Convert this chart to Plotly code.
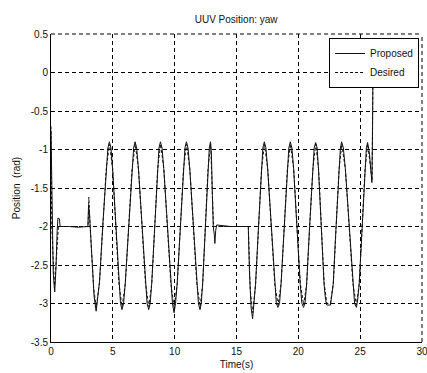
import plotly.graph_objects as go

# Proposed trajectory
prop_t = [0.00, 0.08, 0.18, 0.30, 0.40, 0.50, 0.56, 0.68, 0.74, 1.50, 2.20, 2.98, 3.04, 3.12, 3.30, 3.48, 3.65,
          3.80, 3.92, 4.18, 4.45, 4.60, 4.72,
          4.85, 4.98, 5.23, 5.48, 5.62, 5.74,
          5.87, 6.00, 6.27, 6.54, 6.68, 6.80,
          6.93, 7.07, 7.35, 7.63, 7.77, 7.90,
          8.02, 8.14, 8.38, 8.61, 8.73, 8.85,
          8.98, 9.12, 9.40, 9.68, 9.82, 9.95,
          10.07, 10.20, 10.45, 10.70, 10.83, 10.95,
          11.08, 11.22, 11.50, 11.78, 11.92, 12.05,
          12.15, 12.26, 12.47, 12.68, 12.80, 12.90,
          12.97, 13.05, 13.12, 13.20, 13.25, 13.32, 13.40, 14.50, 15.95,
          16.05, 16.18, 16.30,
          16.42, 16.54, 16.78, 17.01, 17.13, 17.25,
          17.38, 17.52, 17.80, 18.08, 18.22, 18.35,
          18.48, 18.60, 18.85, 19.10, 19.23, 19.35,
          19.48, 19.62, 19.88, 20.15, 20.29, 20.42,
          20.54, 20.67, 20.91, 21.16, 21.28, 21.40,
          21.52, 21.63, 21.85, 22.08, 22.20, 22.30, 22.60,
          22.70, 22.82, 23.05, 23.28, 23.40, 23.50,
          23.64, 23.80, 24.10, 24.40, 24.55, 24.70,
          24.80, 24.92, 25.15, 25.38, 25.50, 25.60,
          25.75, 25.88, 25.95, 26.00, 26.05]
prop_y = [-0.75, -1.90, -2.60, -2.85, -2.55, -2.05, -1.89, -1.90, -2.00, -2.00, -2.01, -2.00, -1.72, -1.85, -2.45, -2.90, -3.10,
          -2.85, -2.72, -2.00, -1.25, -0.98, -0.90,
          -0.98, -1.25, -2.00, -2.75, -3.00, -3.08,
          -3.00, -2.75, -2.00, -1.25, -0.98, -0.90,
          -0.98, -1.25, -2.00, -2.75, -3.00, -3.08,
          -3.00, -2.75, -2.00, -1.25, -0.98, -0.90,
          -0.98, -1.25, -2.00, -2.75, -3.00, -3.12,
          -3.00, -2.75, -2.00, -1.25, -0.98, -0.90,
          -0.98, -1.25, -2.00, -2.75, -3.00, -3.08,
          -3.00, -2.75, -2.00, -1.25, -0.98, -0.90,
          -1.05, -1.60, -2.00, -2.10, -2.22, -2.05, -1.98, -2.00, -2.00,
          -2.60, -3.05, -3.20,
          -3.00, -2.75, -2.00, -1.25, -0.98, -0.90,
          -0.98, -1.25, -2.00, -2.75, -3.00, -3.05,
          -3.00, -2.75, -2.00, -1.25, -0.98, -0.90,
          -0.98, -1.25, -2.00, -2.75, -3.00, -3.05,
          -3.00, -2.75, -2.00, -1.25, -0.98, -0.91,
          -0.98, -1.25, -2.00, -2.75, -2.95, -3.02, -3.02,
          -2.90, -2.75, -2.00, -1.25, -0.98, -0.90,
          -0.98, -1.25, -2.00, -2.75, -3.00, -3.05,
          -2.95, -2.75, -2.00, -1.25, -0.98, -0.91,
          -1.05, -1.30, -1.43, -0.80, 0.35]

# Desired trajectory
des_t = [0.00, 0.06, 0.28, 0.60, 3.00, 3.06, 3.16, 3.45, 3.66,
         3.93, 4.19, 4.46, 4.73, 4.99, 5.24, 5.49, 5.75, 6.01, 6.28, 6.55, 6.81,
         7.08, 7.36, 7.64, 7.91, 8.15, 8.39, 8.62, 8.86, 9.13, 9.41, 9.69, 9.96,
         10.21, 10.46, 10.71, 10.96, 11.23, 11.51, 11.79, 12.06, 12.27, 12.48, 12.69, 12.91,
         13.06, 13.14, 15.96, 16.10, 16.31,
         16.55, 16.79, 17.02, 17.26, 17.53, 17.81, 18.09, 18.36, 18.61, 18.86, 19.11, 19.36,
         19.63, 19.89, 20.16, 20.43, 20.68, 20.92, 21.17, 21.41, 21.64, 21.86, 22.09, 22.31,
         22.59, 22.83, 23.06, 23.29, 23.51, 23.81, 24.11, 24.41, 24.69, 24.93, 25.16, 25.39,
         25.61, 25.96, 26.05]
des_y = [-0.70, -2.00, -2.80, -2.00, -2.00, -1.62, -2.00, -2.80, -3.05,
         -2.72, -2.00, -1.26, -0.93, -1.26, -2.00, -2.74, -3.04, -2.74, -2.00, -1.26, -0.93,
         -1.26, -2.00, -2.74, -3.04, -2.74, -2.00, -1.26, -0.93, -1.26, -2.00, -2.74, -3.05,
         -2.74, -2.00, -1.26, -0.93, -1.26, -2.00, -2.74, -3.04, -2.74, -2.00, -1.26, -0.93,
         -1.60, -2.00, -2.00, -2.80, -3.12,
         -2.74, -2.00, -1.26, -0.93, -1.26, -2.00, -2.74, -3.02, -2.74, -2.00, -1.26, -0.93,
         -1.26, -2.00, -2.74, -3.02, -2.74, -2.00, -1.26, -0.93, -1.26, -2.00, -2.74, -3.00,
         -3.00, -2.74, -2.00, -1.26, -0.93, -1.26, -2.00, -2.74, -3.02, -2.74, -2.00, -1.26,
         -0.93, -1.40, 0.35]

x_ticks = [0, 5, 10, 15, 20, 25, 30]
y_ticks = [0.5, 0, -0.5, -1, -1.5, -2, -2.5, -3, -3.5]
y_tick_text = ["0.5", "0", "-0.5", "-1", "-1.5", "-2", "-2.5", "-3", "-3.5"]

font = "Liberation Sans, Arial, sans-serif"
ink = "#111111"
fig = go.Figure()
fig.add_trace(go.Scatter(x=prop_t, y=prop_y, mode="lines", name="Proposed",
                         line=dict(color=ink, width=1)))
fig.add_trace(go.Scatter(x=des_t, y=des_y, mode="lines", name="Desired",
                         line=dict(color=ink, width=1, dash="3px,2px")))

axis_common = dict(showgrid=True, gridcolor="#000000", gridwidth=1, griddash="4px,3px",
                   showline=True, linecolor="#000000", linewidth=1, ticks="",
                   zeroline=False, ticklabeloverflow="allow", automargin=False,
                   tickfont=dict(family=font, size=10, color=ink))
fig.update_layout(
    width=427, height=373,
    margin=dict(l=51, r=5, t=34, b=31),
    paper_bgcolor="white", plot_bgcolor="white",
    title=dict(text="UUV Position: yaw", x=0.553, xanchor="center", y=0.947, yanchor="middle",
               font=dict(family=font, size=10, color=ink)),
    xaxis=dict(range=[0, 30], tickvals=x_ticks, title=dict(text="Time(s)", standoff=4,
               font=dict(family=font, size=10, color=ink)), **axis_common),
    yaxis=dict(range=[-3.5, 0.5], tickvals=y_ticks, ticktext=y_tick_text,
               title=dict(text="Position  (rad)", standoff=8,
                          font=dict(family=font, size=10, color=ink)), **axis_common),
    legend=dict(x=0.992, y=0.987, xanchor="right", yanchor="top", bgcolor="white",
                bordercolor="#000000", borderwidth=1,
                font=dict(family=font, size=10, color=ink),
                tracegroupgap=0, itemwidth=30),
    showlegend=True,
    shapes=[
        dict(type="line", xref="paper", yref="paper", x0=0, x1=1, y0=1, y1=1,
             line=dict(color="#000000", width=1, dash="4px,3px"), layer="below"),
        dict(type="line", xref="paper", yref="paper", x0=1, x1=1, y0=0, y1=1,
             line=dict(color="#000000", width=1, dash="4px,3px"), layer="below"),
    ],
)
fig.write_html("out.html")
